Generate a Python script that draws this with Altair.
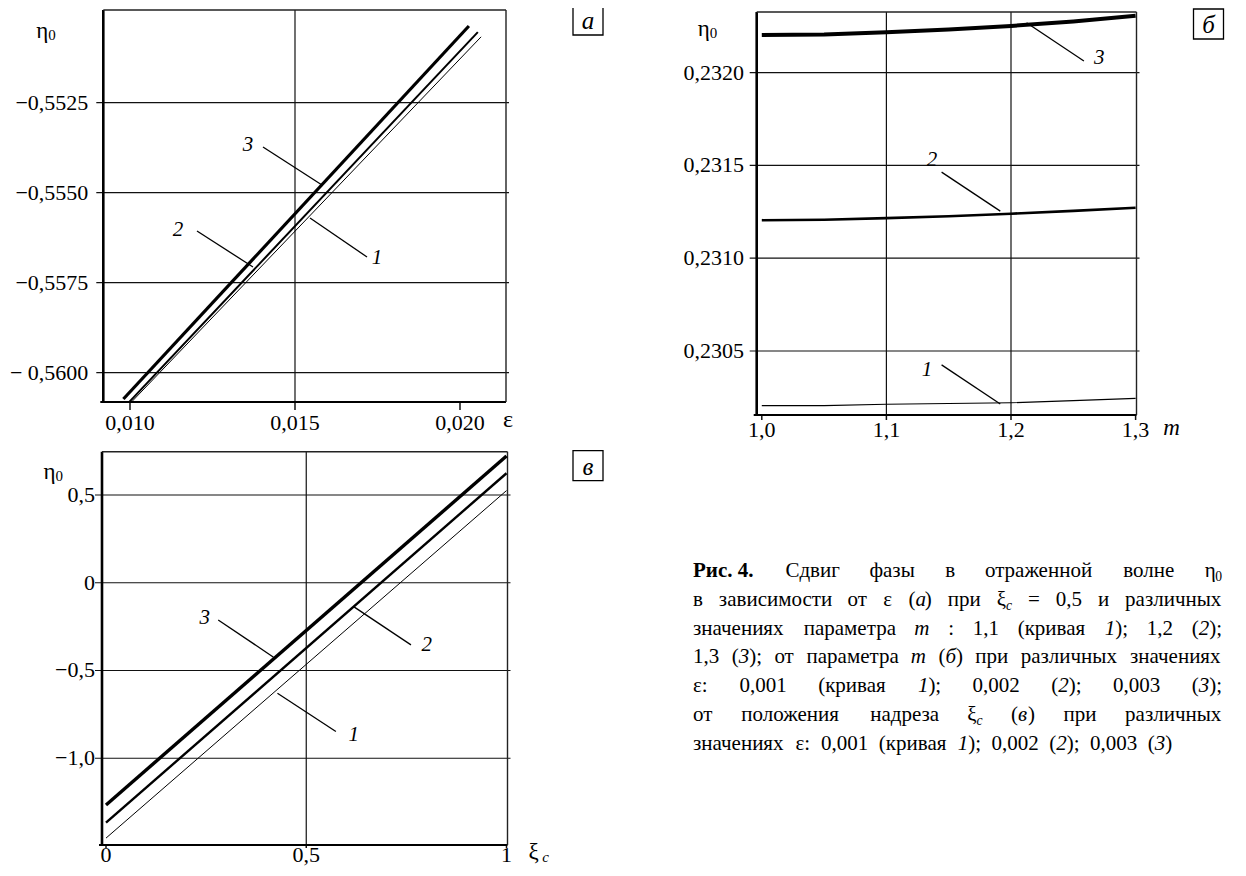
import altair as alt
import pandas as pd

FONT = "Liberation Serif, Times New Roman, serif"
PAGE = 8

# ---------------- data: panel а (eta0 vs epsilon) ----------------
A_X3 = [0.00980, 0.02027]
A_Y3 = [-0.56073, -0.55037]
A_X2 = [0.00998, 0.02054]
A_Y2 = [-0.56081, -0.55054]
A_X1 = [0.01005, 0.02064]
A_Y1 = [-0.56081, -0.55067]
A_YTICKS = [-0.5525, -0.5550, -0.5575, -0.5600]
A_YTICKLABELS = ["−0,5525", "−0,5550", "−0,5575", "− 0,5600"]
A_XTICKS = [0.010, 0.015, 0.020]
A_XTICKLABELS = ["0,010", "0,015", "0,020"]
A_XGRID = [0.015]
A_LAB_T = ["3", "2", "1"]
A_LAB_X = [0.013576, 0.011455, 0.017485]
A_LAB_Y = [-0.553675, -0.556036, -0.556814]
A_LEAD_X = [0.014030, 0.012030, 0.017182]
A_LEAD_Y = [-0.553731, -0.556064, -0.556786]
A_LEAD_X2 = [0.015818, 0.013727, 0.015455]
A_LEAD_Y2 = [-0.554786, -0.557064, -0.555703]

# ---------------- data: panel б (eta0 vs m) ----------------
B_M = [1.0, 1.05, 1.1, 1.15, 1.2, 1.25, 1.3]
B_1 = [0.230205, 0.230206, 0.230213, 0.230217, 0.230221, 0.230232, 0.230245]
B_2 = [0.231205, 0.231207, 0.231216, 0.231226, 0.231240, 0.231255, 0.231272]
B_3 = [0.232203, 0.232206, 0.232218, 0.232233, 0.232252, 0.232276, 0.232307]
B_YTICKS = [0.2320, 0.2315, 0.2310, 0.2305]
B_YTICKLABELS = ["0,2320", "0,2315", "0,2310", "0,2305"]
B_XTICKS = [1.0, 1.1, 1.2, 1.3]
B_XTICKLABELS = ["1,0", "1,1", "1,2", "1,3"]
B_XGRID = [1.1, 1.2]
B_LAB_T = ["3", "2", "1"]
B_LAB_X = [1.2709, 1.1365, 1.1325]
B_LAB_Y = [0.232078, 0.231532, 0.230398]
B_LEAD_X = [1.2585, 1.1443, 1.1443]
B_LEAD_Y = [0.232063, 0.231464, 0.230425]
B_LEAD_X2 = [1.2125, 1.1914, 1.1914]
B_LEAD_Y2 = [0.232269, 0.231254, 0.230214]

# ---------------- data: panel в (eta0 vs xi_c) ----------------
C_X = [0.0, 1.0]
C_1 = [-1.455, 0.525]
C_2 = [-1.367, 0.624]
C_3 = [-1.266, 0.722]
C_YTICKS = [0.5, 0.0, -0.5, -1.0]
C_YTICKLABELS = ["0,5", "0", "−0,5", "−1,0"]
C_XTICKS = [0.0, 0.5, 1.0]
C_XTICKLABELS = ["0", "0,5", "1"]
C_XGRID = [0.5]
C_LAB_T = ["3", "2", "1"]
C_LAB_X = [0.2467, 0.8009, 0.6183]
C_LAB_Y = [-0.2022, -0.3542, -0.8667]
C_LEAD_X = [0.2802, 0.7615, 0.5740]
C_LEAD_Y = [-0.2118, -0.3542, -0.8480]
C_LEAD_X2 = [0.4183, 0.6183, 0.4281]
C_LEAD_Y2 = [-0.4243, -0.1361, -0.6293]

# ---------------- caption text ----------------
CAPTION = [
    [[("Рис. 4.", "b")], [("Сдвиг", "n")], [("фазы", "n")], [("в", "n")],
     [("отраженной", "n")], [("волне", "n")], [("η", "n"), ("0", "z")]],
    [[("в", "n")], [("зависимости", "n")], [("от", "n")], [("ε", "n")],
     [("(", "n"), ("а", "i"), (")", "n")], [("при", "n")], [("ξ", "n"), ("c", "s")],
     [("=", "n")], [("0,5", "n")], [("и", "n")], [("различных", "n")]],
    [[("значениях", "n")], [("параметра", "n")], [("m", "i")], [(":", "n")],
     [("1,1", "n")], [("(кривая", "n")], [("1", "i"), (");", "n")], [("1,2", "n")],
     [("(", "n"), ("2", "i"), (");", "n")]],
    [[("1,3", "n")], [("(", "n"), ("3", "i"), (");", "n")], [("от", "n")],
     [("параметра", "n")], [("m", "i")], [("(", "n"), ("б", "i"), (")", "n")],
     [("при", "n")], [("различных", "n")], [("значениях", "n")]],
    [[("ε:", "n")], [("0,001", "n")], [("(кривая", "n")], [("1", "i"), (");", "n")],
     [("0,002", "n")], [("(", "n"), ("2", "i"), (");", "n")], [("0,003", "n")],
     [("(", "n"), ("3", "i"), (");", "n")]],
    [[("от", "n")], [("положения", "n")], [("надреза", "n")], [("ξ", "n"), ("c", "s")],
     [("(", "n"), ("в", "i"), (")", "n")], [("при", "n")], [("различных", "n")]],
    [[("значениях", "n")], [("ε:", "n")], [("0,001", "n")], [("(кривая", "n")],
     [("1", "i"), (");", "n")], [("0,002", "n")], [("(", "n"), ("2", "i"), (");", "n")],
     [("0,003", "n")], [("(", "n"), ("3", "i"), (")", "n")]],
]

# ---------------- layout (pixels on the page) ----------------
GEOM = {
    "a": dict(xr=(103.3, 506.0), yr=(402.0, 10.0), xd=(0.009191, 0.021394), yd=(-0.560814, -0.549925)),
    "b": dict(xr=(756.7, 1136.5), yr=(415.0, 12.0), xd=(0.99591, 1.30072), yd=(0.230155, 0.232327)),
    "c": dict(xr=(102.0, 507.5), yr=(845.0, 451.7), xd=(-0.00999, 1.0025), yd=(-1.4943, 0.7467)),
}
TICK_FS = 22
LAB_FS = 21


def enc(g):
    xs = alt.Scale(domain=list(g["xd"]), range=[g["xr"][0] - PAGE, g["xr"][1] - PAGE], nice=False, zero=False)
    ys = alt.Scale(domain=list(g["yd"]), range=[g["yr"][0] - PAGE, g["yr"][1] - PAGE], nice=False, zero=False)

    def X(f):
        return alt.X(f, type="quantitative", scale=xs, axis=None)

    def Y(f):
        return alt.Y(f, type="quantitative", scale=ys, axis=None)
    return X, Y


def panel(key, curves, yt, ytl, xt, xtl, xgrid, lab, lead, opt):
    g = GEOM[key]
    X, Y = enc(g)
    x0, x1 = g["xd"]
    y0, y1 = g["yd"]
    out = []
    # horizontal grid lines (with a short tick outside the left axis)
    df = pd.DataFrame({"y": yt, "xa": x0, "xb": x1})
    out.append(alt.Chart(df).mark_rule(color="#111", strokeWidth=1.2, xOffset=-7, x2Offset=3)
               .encode(x=X("xa"), x2="xb", y=Y("y")))
    # vertical grid lines
    df = pd.DataFrame({"x": xgrid, "ya": y0, "yb": y1})
    out.append(alt.Chart(df).mark_rule(color="#111", strokeWidth=1.2)
               .encode(x=X("x"), y=Y("ya"), y2="yb"))
    # small ticks below the x axis
    df = pd.DataFrame({"x": xt, "ya": y0})
    out.append(alt.Chart(df).mark_rule(color="#111", strokeWidth=1.5, y2Offset=opt["tick"])
               .encode(x=X("x"), y=Y("ya"), y2="ya"))
    # frame
    fr = pd.DataFrame({"xa": [x0], "xb": [x1], "ya": [y0], "yb": [y1]})
    out.append(alt.Chart(fr).mark_rule(color="black", strokeWidth=2.6).encode(x=X("xa"), y=Y("ya"), y2="yb"))
    out.append(alt.Chart(fr).mark_rule(color="black", strokeWidth=2.0, xOffset=-3).encode(x=X("xa"), x2="xb", y=Y("ya")))
    out.append(alt.Chart(fr).mark_rule(color="#222", strokeWidth=1.4).encode(x=X("xa"), x2="xb", y=Y("yb")))
    out.append(alt.Chart(fr).mark_rule(color="#222", strokeWidth=1.4).encode(x=X("xb"), y=Y("ya"), y2="yb"))
    # curves
    for xs_, ys_, w in curves:
        df = pd.DataFrame({"x": xs_, "y": ys_})
        out.append(alt.Chart(df).mark_line(color="black", strokeWidth=w).encode(x=X("x"), y=Y("y")))
    # leader lines and curve numbers
    lx, ly, lx2, ly2 = lead
    df = pd.DataFrame({"x": lx, "y": ly, "x2": lx2, "y2": ly2})
    out.append(alt.Chart(df).mark_rule(color="black", strokeWidth=1.3)
               .encode(x=X("x"), y=Y("y"), x2="x2", y2="y2"))
    t, tx, ty = lab
    df = pd.DataFrame({"x": tx, "y": ty, "t": t})
    out.append(alt.Chart(df).mark_text(font=FONT, fontStyle="italic", fontSize=LAB_FS, align="center",
                                       baseline="middle", color="black")
               .encode(x=X("x"), y=Y("y"), text="t"))
    # tick labels
    df = pd.DataFrame({"y": yt, "xa": x0, "t": ytl})
    out.append(alt.Chart(df).mark_text(font=FONT, fontSize=TICK_FS, align="right", baseline="middle",
                                       dx=opt["ylab_dx"], color="black")
               .encode(x=X("xa"), y=Y("y"), text="t"))
    df = pd.DataFrame({"x": xt, "ya": y0, "t": xtl})
    out.append(alt.Chart(df).mark_text(font=FONT, fontSize=TICK_FS, align="center", baseline="middle",
                                       dy=opt["xlab_dy"], color="black")
               .encode(x=X("x"), y=Y("ya"), text="t"))
    # y title eta_0
    dx, dy = opt["eta"]
    out.append(alt.Chart(fr).mark_text(font=FONT, fontSize=23, align="left", baseline="middle",
                                       dx=dx, dy=dy, text="η", color="black")
               .encode(x=X("xa"), y=Y("yb")))
    out.append(alt.Chart(fr).mark_text(font=FONT, fontSize=15, align="left", baseline="middle",
                                       dx=dx + 12, dy=dy + 4, text="0", color="black")
               .encode(x=X("xa"), y=Y("yb")))
    # x title pieces
    for txt, style, size, dx, dy in opt["xtitle"]:
        out.append(alt.Chart(fr).mark_text(font=FONT, fontSize=size, fontStyle=style, align="center",
                                           baseline="middle", dx=dx, dy=dy, text=txt, color="black")
                   .encode(x=X("xb"), y=Y("ya")))
    # boxed panel letter
    bdx, bdy, letter = opt["box"]
    out.append(alt.Chart(fr).mark_point(shape="square", size=900, filled=False, color="black",
                                        strokeWidth=1.3, opacity=1, xOffset=bdx, yOffset=bdy)
               .encode(x=X("xb"), y=Y("yb")))
    out.append(alt.Chart(fr).mark_text(font=FONT, fontSize=25, fontStyle="italic", align="center",
                                       baseline="middle", dx=bdx, dy=bdy + 1, text=letter, color="black")
               .encode(x=X("xb"), y=Y("yb")))
    return out


layers = []
layers += panel(
    "a",
    [(A_X1, A_Y1, 1.0), (A_X2, A_Y2, 2.0), (A_X3, A_Y3, 3.2)],
    A_YTICKS, A_YTICKLABELS, A_XTICKS, A_XTICKLABELS, A_XGRID,
    (A_LAB_T, A_LAB_X, A_LAB_Y), (A_LEAD_X, A_LEAD_Y, A_LEAD_X2, A_LEAD_Y2),
    dict(ylab_dx=-15, xlab_dy=21, eta=(-67, 21), tick=8,
         xtitle=[("ε", "normal", 24, 2, 18)], box=(82, 10, "а")),
)
layers += panel(
    "b",
    [(B_M, B_1, 1.2), (B_M, B_2, 2.6), (B_M, B_3, 4.0)],
    B_YTICKS, B_YTICKLABELS, B_XTICKS, B_XTICKLABELS, B_XGRID,
    (B_LAB_T, B_LAB_X, B_LAB_Y), (B_LEAD_X, B_LEAD_Y, B_LEAD_X2, B_LEAD_Y2),
    dict(ylab_dx=-12.7, xlab_dy=15, eta=(-59, 17), tick=5,
         xtitle=[("m", "italic", 23, 35, 13)], box=(72, 12, "б")),
)
layers += panel(
    "c",
    [(C_X, C_1, 1.0), (C_X, C_2, 2.4), (C_X, C_3, 3.4)],
    C_YTICKS, C_YTICKLABELS, C_XTICKS, C_XTICKLABELS, C_XGRID,
    (C_LAB_T, C_LAB_X, C_LAB_Y), (C_LEAD_X, C_LEAD_Y, C_LEAD_X2, C_LEAD_Y2),
    dict(ylab_dx=-7, xlab_dy=10, eta=(-58.5, 20), tick=3,
         xtitle=[("ξ", "normal", 23, 26, 7), ("c", "italic", 15, 38, 12)], box=(80.5, 14, "в")),
)

# ---------------- caption (justified) ----------------
CAP_FS = 21
CAP_X0, CAP_X1 = 693.0, 1222.0
CAP_Y0, CAP_DY = 571.0, 28.8
CW = {' ': 250, ',': 250, '.': 250, ';': 278, ':': 278, '(': 333, ')': 333, '=': 564,
      'm': 722, 'c': 444, 'η': 500, 'ε': 440, 'ξ': 440,
      'а': 444, 'б': 500, 'в': 472, 'г': 410, 'д': 499, 'е': 444, 'ж': 740, 'з': 395,
      'и': 535, 'й': 535, 'к': 479, 'л': 503, 'м': 627, 'н': 535, 'о': 500, 'п': 535,
      'р': 500, 'с': 444, 'т': 439, 'у': 500, 'ф': 648, 'х': 500, 'ц': 535, 'ч': 503,
      'ш': 770, 'щ': 770, 'ы': 700, 'ь': 462, 'я': 490, 'Р': 556, 'С': 667}
STYLE_K = {"n": 1.0, "i": 1.0, "b": 1.07, "s": 0.65, "z": 0.65}


def seg_w(text, style):
    return sum(CW.get(ch, 500) for ch in text) / 1000.0 * CAP_FS * STYLE_K[style]


rows = []
L = CAP_X1 - CAP_X0
for li, words in enumerate(CAPTION):
    wws = [sum(seg_w(t, s) for t, s in w) for w in words]
    last = li == len(CAPTION) - 1
    gap = 0.5 * CAP_FS if last else (L - sum(wws)) / (len(words) - 1)
    x = 0.0
    for w, ww in zip(words, wws):
        sx = x
        for t, s in w:
            rows.append({"t": t, "x": sx, "line": li, "style": s})
            sx += seg_w(t, s)
        x += ww + gap
cap = pd.DataFrame(rows)
cxs = alt.Scale(domain=[0, L], range=[CAP_X0 - PAGE, CAP_X1 - PAGE], nice=False, zero=False)
cys = alt.Scale(domain=[0, len(CAPTION) - 1],
                range=[CAP_Y0 - PAGE, CAP_Y0 - PAGE + CAP_DY * (len(CAPTION) - 1)], nice=False, zero=False)
CAP_STYLE = {
    "n": dict(fontSize=CAP_FS),
    "i": dict(fontSize=CAP_FS, fontStyle="italic"),
    "b": dict(fontSize=CAP_FS, fontWeight="bold"),
    "s": dict(fontSize=CAP_FS * 0.65, fontStyle="italic", dy=6),
    "z": dict(fontSize=CAP_FS * 0.65, dy=6),
}
for s, kw in CAP_STYLE.items():
    d = cap[cap["style"] == s]
    if len(d) == 0:
        continue
    layers.append(alt.Chart(d).mark_text(font=FONT, align="left", baseline="middle", color="black", **kw)
                  .encode(x=alt.X("x:Q", scale=cxs, axis=None),
                          y=alt.Y("line:Q", scale=cys, axis=None),
                          text="t:N"))

chart = (alt.layer(*layers)
         .resolve_scale(x="independent", y="independent")
         .properties(width=1230, height=860, padding=0, autosize=alt.AutoSizeParams(type="none"))
         .configure_view(stroke=None))

chart.save("out.html", embed_options={"renderer": "svg", "actions": False})
